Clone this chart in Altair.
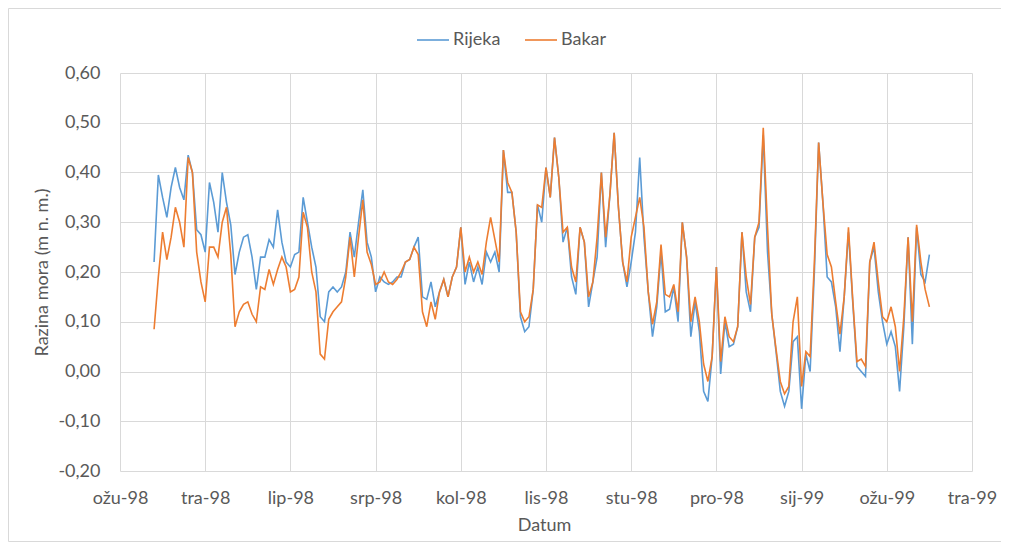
import altair as alt
import pandas as pd

dates = pd.date_range("1998-04-01", "1999-03-31", freq="2D").strftime("%Y-%m-%d").tolist()

rijeka = [
    0.22, 0.395, 0.35, 0.31, 0.37, 0.41, 0.37, 0.345, 0.435, 0.40,
    0.285, 0.275, 0.24, 0.38, 0.34, 0.28, 0.40, 0.34, 0.295, 0.195,
    0.24, 0.27, 0.275, 0.23, 0.165, 0.23, 0.23, 0.265, 0.25, 0.325,
    0.26, 0.22, 0.21, 0.235, 0.24, 0.35, 0.30, 0.25, 0.21, 0.11,
    0.10, 0.16, 0.17, 0.16, 0.17, 0.20, 0.28, 0.23, 0.30, 0.365,
    0.26, 0.23, 0.16, 0.19, 0.18, 0.175, 0.18, 0.19, 0.19, 0.22,
    0.225, 0.25, 0.27, 0.15, 0.145, 0.18, 0.13, 0.16, 0.185, 0.15,
    0.19, 0.21, 0.29, 0.175, 0.22, 0.18, 0.21, 0.175, 0.24, 0.22,
    0.24, 0.20, 0.445, 0.36, 0.36, 0.28, 0.11, 0.08, 0.09, 0.165,
    0.335, 0.30, 0.41, 0.35, 0.47, 0.39, 0.26, 0.29, 0.19, 0.155,
    0.29, 0.26, 0.13, 0.18, 0.23, 0.40, 0.25, 0.355, 0.48, 0.33,
    0.22, 0.17, 0.22, 0.28, 0.43, 0.27, 0.16, 0.07, 0.13, 0.24,
    0.12, 0.125, 0.17, 0.10, 0.30, 0.23, 0.07, 0.14, 0.08, -0.04,
    -0.06, 0.03, 0.21, -0.005, 0.10, 0.05, 0.055, 0.09, 0.28, 0.16,
    0.12, 0.27, 0.29, 0.475, 0.24, 0.115, 0.04, -0.04, -0.07, -0.04,
    0.06, 0.07, -0.075, 0.035, 0.00, 0.20, 0.46, 0.34, 0.19, 0.18,
    0.13, 0.04, 0.15, 0.28, 0.14, 0.01, 0.00, -0.01, 0.22, 0.25,
    0.16, 0.10, 0.055, 0.08, 0.05, -0.04, 0.09, 0.27, 0.055, 0.29,
    0.195, 0.18, 0.235,
]

bakar = [
    0.085, 0.19, 0.28, 0.225, 0.27, 0.33, 0.30, 0.25, 0.43, 0.40,
    0.24, 0.18, 0.14, 0.25, 0.25, 0.23, 0.30, 0.33, 0.235, 0.09,
    0.12, 0.135, 0.14, 0.115, 0.10, 0.17, 0.165, 0.205, 0.175, 0.205,
    0.23, 0.21, 0.16, 0.165, 0.19, 0.32, 0.29, 0.20, 0.16, 0.035,
    0.025, 0.105, 0.12, 0.13, 0.14, 0.19, 0.27, 0.19, 0.27, 0.345,
    0.24, 0.215, 0.175, 0.18, 0.20, 0.18, 0.175, 0.185, 0.20, 0.22,
    0.225, 0.25, 0.235, 0.12, 0.09, 0.14, 0.105, 0.16, 0.185, 0.15,
    0.19, 0.21, 0.29, 0.20, 0.23, 0.20, 0.22, 0.195, 0.26, 0.31,
    0.265, 0.22, 0.445, 0.38, 0.36, 0.28, 0.12, 0.10, 0.11, 0.165,
    0.335, 0.33, 0.41, 0.35, 0.47, 0.39, 0.28, 0.29, 0.21, 0.18,
    0.29, 0.26, 0.15, 0.18, 0.27, 0.40, 0.27, 0.355, 0.48, 0.33,
    0.22, 0.18, 0.27, 0.31, 0.35, 0.29, 0.16, 0.095, 0.14, 0.255,
    0.155, 0.15, 0.175, 0.12, 0.30, 0.23, 0.10, 0.15, 0.10, 0.015,
    -0.02, 0.03, 0.21, 0.02, 0.11, 0.07, 0.06, 0.09, 0.28, 0.19,
    0.135, 0.27, 0.30, 0.49, 0.29, 0.115, 0.045, -0.02, -0.045, -0.03,
    0.10, 0.15, -0.03, 0.04, 0.03, 0.22, 0.46, 0.34, 0.235, 0.21,
    0.14, 0.075, 0.15, 0.29, 0.145, 0.02, 0.025, 0.01, 0.22, 0.26,
    0.18, 0.11, 0.10, 0.13, 0.09, 0.00, 0.11, 0.27, 0.10, 0.295,
    0.22, 0.165, 0.13,
]

series_names = ["Rijeka", "Bakar"]
series_colors = ["#5B9BD5", "#ED7D31"]
month_abbr = ["sij", "velj", "ožu", "tra", "svi", "lip", "srp", "kol", "ruj", "lis", "stu", "pro"]
y_ticks = [-0.2, -0.1, 0.0, 0.1, 0.2, 0.3, 0.4, 0.5, 0.6]
x_tick_dates = pd.date_range("1998-03-16", periods=11, freq="40D")

# ---- build table
df = pd.concat([
    pd.DataFrame({"date": dates, "value": rijeka, "series": "Rijeka"}),
    pd.DataFrame({"date": dates, "value": bakar, "series": "Bakar"}),
], ignore_index=True)

to_ms = lambda ts: int(pd.Timestamp(ts).tz_localize("UTC").timestamp() * 1000)
x_ticks_ms = [to_ms(t) for t in x_tick_dates]
x_domain = [x_ticks_ms[0], x_ticks_ms[-1]]

month_js = "[" + ",".join("'" + m + "'" for m in month_abbr) + "]"
x_label_expr = month_js + "[utcmonth(datum.value)] + '-' + utcFormat(datum.value, '%y')"
y_label_expr = "replace(replace(format(datum.value, '.2f'), '.', ','), '\u2212', '-')"

FONT = "Lato"
GREY = "#595959"
W, H = 852, 398

base = alt.Chart(df).encode(
    x=alt.X(
        "date:T",
        scale=alt.Scale(type="utc", domain=x_domain),
        axis=alt.Axis(
            values=x_ticks_ms, labelExpr=x_label_expr, title="Datum",
            grid=True, gridColor="#d9d9d9", ticks=False, domain=False,
            labelFlush=False, labelOverlap=False, labelBound=False,
            labelPadding=18, labelFontSize=18, labelColor=GREY, labelFont=FONT,
            titleFontSize=18, titleColor=GREY, titleFont=FONT, titleFontWeight="normal",
            titleX=424, titleY=54, titleBaseline="middle", titleAnchor="middle",
        ),
    ),
    y=alt.Y(
        "value:Q",
        scale=alt.Scale(domain=[-0.2, 0.6], nice=False, zero=False),
        axis=alt.Axis(
            values=y_ticks, labelExpr=y_label_expr, title="Razina mora (m n. m.)",
            grid=True, gridColor="#d9d9d9", ticks=False, domain=False,
            labelFlush=False, labelOverlap=False,
            labelPadding=20, labelFontSize=18, labelColor=GREY, labelFont=FONT,
            titleFontSize=18, titleColor=GREY, titleFont=FONT, titleFontWeight="normal",
            titleX=-78, titleY=H / 2, titleAngle=270, titleBaseline="middle", titleAlign="center",
        ),
    ),
    color=alt.Color(
        "series:N",
        scale=alt.Scale(domain=series_names, range=series_colors),
        legend=alt.Legend(
            title=None, orient="none", direction="horizontal", legendX=296, legendY=-50,
            symbolType="stroke", symbolSize=1024, symbolStrokeWidth=1.6,
            labelFontSize=18, labelColor=GREY, labelFont=FONT, labelOffset=3,
            columnPadding=20,
        ),
    ),
)

rij = base.transform_filter(alt.datum.series == "Rijeka").mark_line(strokeWidth=1.6)
bak = base.transform_filter(alt.datum.series == "Bakar").mark_line(strokeWidth=1.6)

# light chart-area border (right side runs off the canvas, as in the reference)
frame = alt.Chart(pd.DataFrame({"k": [0]})).mark_rect(
    fill=None, stroke="#d9d9d9", strokeWidth=1
).encode(
    x=alt.value(-111.5), x2=alt.value(W + 45),
    y=alt.value(-64.5), y2=alt.value(H + 70.5),
)

chart = alt.layer(frame, rij, bak).properties(
    width=W, height=H,
    autosize=alt.AutoSizeParams(type="none"),
    padding={"left": 112, "top": 65, "right": 29, "bottom": 72},
).configure_view(stroke=None)

chart.save("out.html", embed_options={"renderer": "svg", "actions": False})
